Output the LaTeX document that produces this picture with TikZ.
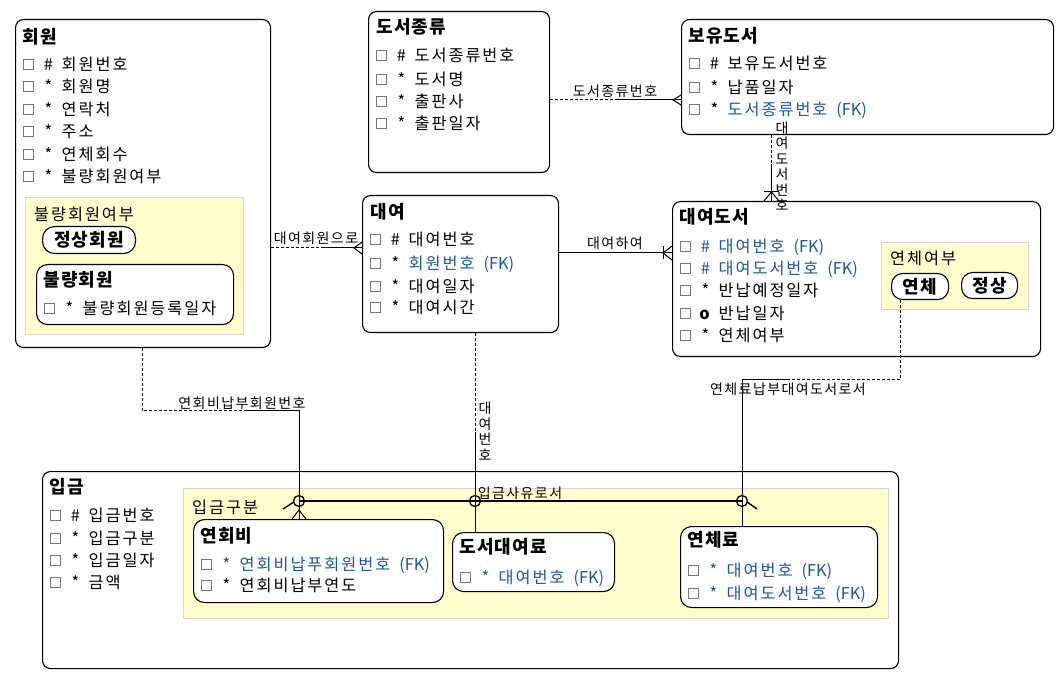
\documentclass[tikz,border=0pt]{standalone}
\usepackage{fontspec}
\setmainfont{Noto Sans CJK KR}
\usetikzlibrary{calc}
\definecolor{fkblue}{RGB}{30,85,160}
\definecolor{subyellow}{RGB}{255,255,206}
\definecolor{subborder}{RGB}{214,214,214}
\definecolor{cbgray}{RGB}{120,120,120}
\newcommand\attrfont{\fontsize{16.3}{18}\selectfont\addfontfeature{LetterSpace=12}}
\newcommand\titlefont{\fontsize{18}{20}\selectfont\bfseries\addfontfeature{LetterSpace=7}}
\newcommand\lblfont{\fontsize{14}{15.5}\selectfont\addfontfeature{LetterSpace=10}}
\newcommand\vlblfont{\fontsize{14}{15.5}\selectfont}
\tikzset{
  entity/.style={draw=black, line width=1.1pt, rounded corners=8pt, fill=white, inner sep=0, anchor=north west},
  subbox/.style={draw=black, line width=1.1pt, rounded corners=11pt, fill=white, inner sep=0, anchor=north west},
  subarea/.style={draw=subborder, line width=1pt, fill=subyellow, inner sep=0, anchor=north west},
  etitle/.style={font=\titlefont, anchor=west, inner sep=0, text height=15.5pt, text depth=3pt},
  pilltext/.style={font=\titlefont, inner sep=0},
  areatext/.style={font=\attrfont, anchor=west, inner sep=0, text height=14.3pt, text depth=2pt},
  cbox/.style={draw=cbgray, line width=0.8pt, minimum size=10pt, inner sep=0, fill=white},
  amark/.style={font=\attrfont, inner sep=0, text height=14.3pt, text depth=2pt},
  atext/.style={font=\attrfont, anchor=west, inner sep=0, text height=14.3pt, text depth=2pt},
  conn/.style={draw=black, line width=1pt},
  opt/.style={conn, dash pattern=on 3pt off 2pt},
  clabel/.style={font=\lblfont, inner sep=0},
  vlabel/.style={font=\vlblfont, inner sep=0, align=center},
  arccirc/.style={circle, draw=black, line width=1.3pt, minimum size=11pt, inner sep=0},
}
% #1 name, #2 box left, #3 y, #4 marker, #5 text, #6 text colour
\newcommand\attr[6]{%
  \node[cbox] (#1c) at ({#2+13.5},#3) {};
  \node[amark] (#1m) at ({#2+33.5},#3) {#4};
  \node[atext, text=#6] (#1t) at ({#2+46.5},#3) {#5};}
\newcommand\fk{\hspace{9pt}{\addfontfeature{LetterSpace=0}(FK)}}
\begin{document}
\begin{tikzpicture}[x=1pt,y=-1pt]
\useasboundingbox (0,0) rectangle (1063,684);
\fill[white] (0,0) rectangle (1063,684);

% ---------- 회원 ----------
\node[entity, minimum width=255, minimum height=328] (hoewon) at (15,19) {};
\node[etitle] (hoewonT) at (22,37) {회원};
\attr{hw1}{15}{64}{\#}{회원번호}{black}
\attr{hw2}{15}{86}{*}{회원명}{black}
\attr{hw3}{15}{109}{*}{연락처}{black}
\attr{hw4}{15}{131}{*}{주소}{black}
\attr{hw5}{15}{154}{*}{연체회수}{black}
\attr{hw6}{15}{176}{*}{불량회원여부}{black}
\node[subarea, minimum width=218, minimum height=137] (hwarea) at (25,197) {};
\node[areatext] (hwareaT) at (34,214) {불량회원여부};
\node[subbox, rounded corners=12pt, minimum width=93, minimum height=27] (jsh) at (42,226) {};
\node[pilltext] (jshT) at (jsh.center) {정상회원};
\node[subbox, minimum width=197, minimum height=60] (bry) at (36,264) {};
\node[etitle] (bryT) at (43,280) {불량회원};
\attr{br1}{36}{308}{*}{불량회원등록일자}{black}

% ---------- 도서종류 ----------
\node[entity, minimum width=181, minimum height=161] (dojong) at (368,11) {};
\node[etitle] (dojongT) at (376,27) {도서종류};
\attr{dj1}{368}{55}{\#}{도서종류번호}{black}
\attr{dj2}{368}{79}{*}{도서명}{black}
\attr{dj3}{368}{101}{*}{출판사}{black}
\attr{dj4}{368}{123}{*}{출판일자}{black}

% ---------- 보유도서 ----------
\node[entity, minimum width=372, minimum height=115] (boyu) at (681,19) {};
\node[etitle] (boyuT) at (688,36) {보유도서};
\attr{by1}{681}{63}{\#}{보유도서번호}{black}
\attr{by2}{681}{87}{*}{납품일자}{black}
\attr{by3}{681}{109}{*}{도서종류번호\fk}{fkblue}

% ---------- 대여 ----------
\node[entity, minimum width=196, minimum height=137] (daeyeo) at (362,195) {};
\node[etitle] (daeyeoT) at (370,212) {대여};
\attr{dy1}{362}{239}{\#}{대여번호}{black}
\attr{dy2}{362}{263}{*}{회원번호\fk}{fkblue}
\attr{dy3}{362}{286}{*}{대여일자}{black}
\attr{dy4}{362}{307}{*}{대여시간}{black}

% ---------- 대여도서 ----------
\node[entity, minimum width=368, minimum height=155] (daedo) at (672,201) {};
\node[etitle] (daedoT) at (679,217) {대여도서};
\attr{dd1}{672}{246}{\textcolor{fkblue}{\#}}{대여번호\fk}{fkblue}
\attr{dd2}{672}{268}{\textcolor{fkblue}{\#}}{대여도서번호\fk}{fkblue}
\attr{dd3}{672}{290}{*}{반납예정일자}{black}
\attr{dd4}{672}{313}{\textbf{o}}{반납일자}{black}
\attr{dd5}{672}{335}{*}{연체여부}{black}
\node[subarea, minimum width=147, minimum height=67] (ddarea) at (881,242) {};
\node[areatext] (ddareaT) at (890,258) {연체여부};
\node[subbox, rounded corners=11pt, minimum width=57, minimum height=26] (yeonche) at (891,273) {};
\node[pilltext] (yeoncheT) at (yeonche.center) {연체};
\node[subbox, rounded corners=11pt, minimum width=56, minimum height=26] (jsang) at (961,272) {};
\node[pilltext] (jsangT) at (jsang.center) {정상};

% ---------- 입금 ----------
\node[entity, minimum width=856, minimum height=197] (ipgeum) at (42,471) {};
\node[etitle] (ipgeumT) at (49,487) {입금};
\attr{ig1}{42}{515}{\#}{입금번호}{black}
\attr{ig2}{42}{538}{*}{입금구분}{black}
\attr{ig3}{42}{560}{*}{입금일자}{black}
\attr{ig4}{42}{582}{*}{금액}{black}
\node[subarea, minimum width=705, minimum height=130] (igarea) at (183,488) {};
\node[areatext] (igareaT) at (192,507) {입금구분};

\node[subbox, minimum width=250, minimum height=83] (yeonhoe) at (193,519) {};
\node[etitle] (yeonhoeT) at (200,536) {연회비};
\attr{yh1}{193}{564}{\textcolor{fkblue}{*}}{연회비납푸회원번호\fk}{fkblue}
\attr{yh2}{193}{585}{*}{연회비납부연도}{black}

\node[subbox, minimum width=162, minimum height=59] (doseo) at (452,532) {};
\node[etitle] (doseoT) at (459,547) {도서대여료};
\attr{ds1}{452}{577}{\textcolor{fkblue}{*}}{대여번호\fk}{fkblue}

\node[subbox, minimum width=197, minimum height=81] (yeonchelyo) at (680,526) {};
\node[etitle] (yeonchelyoT) at (687,540) {연체료};
\attr{yl1}{680}{570}{\textcolor{fkblue}{*}}{대여번호\fk}{fkblue}
\attr{yl2}{680}{593}{\textcolor{fkblue}{*}}{대여도서번호\fk}{fkblue}

% ---------- connectors ----------
% 도서종류 -> 보유도서
\draw[opt] (dojong.east |- 0,100) -- (616,100) coordinate (l1m);
\draw[conn] (l1m) -- (boyu.west |- 0,100);
\draw[conn] (boyu.west |- 0,95) -- (673,100) -- (boyu.west |- 0,105);
\node[clabel] (l1lab) at (615,91) {도서종류번호};

% 보유도서 -> 대여도서
\draw[opt] (boyu.south -| 771.5,0) -- (771.5,164) coordinate (l2m);
\draw[conn] (l2m) -- (daedo.north -| 771.5,0);
\draw[conn] (764,192) -- (779,192);
\draw[conn] (daedo.north -| 764,0) -- (771.5,192) -- (daedo.north -| 779,0);
\node[vlabel] (l2lab) at (782,166) {대\\여\\도\\서\\번\\호};

% 회원 -> 대여
\draw[opt] (hoewon.east |- 0,248) -- (323,248) coordinate (l3m);
\draw[conn] (l3m) -- (daeyeo.west |- 0,248);
\draw[conn] (daeyeo.west |- 0,242) -- (354,248) -- (daeyeo.west |- 0,254);
\node[clabel] (l3lab) at (316,238) {대여회원으로};

% 대여 -> 대여도서
\draw[conn] (daeyeo.east |- 0,253) -- (daedo.west |- 0,253);
\draw[conn] (663,246.5) -- (663,259.5);
\draw[conn] (daedo.west |- 0,246) -- (663,253) -- (daedo.west |- 0,260);
\node[clabel] (l4lab) at (615,243) {대여하여};

% 회원 -> 연회비
\draw[opt] (hoewon.south -| 142,0) |- (244,411) coordinate (l5m);
\draw[conn] (l5m) -| (yeonhoe.north -| 299,0);
\draw[conn] (yeonhoe.north -| 292,0) -- (299,510) -- (yeonhoe.north -| 306,0);
\node[clabel] (l5lab) at (242,403) {연회비납부회원번호};

% 대여 -> 도서대여료
\draw[opt] (daeyeo.south -| 475,0) -- (475,432) coordinate (l6m);
\draw[conn] (l6m) -- (doseo.north -| 475,0);
\node[vlabel] (l6lab) at (485,431) {대\\여\\번\\호};

% 대여도서(연체) -> 연체료
\draw[opt] (yeonche.south -| 900,0) |- (789,380) coordinate (l7m);
\draw[conn] (l7m) -| (yeonchelyo.north -| 742,0);
\node[clabel] (l7lab) at (788,389) {연체료납부대여도서로서};

% arc 입금사유로서
\node[arccirc] (arc1) at (299,501) {};
\node[arccirc] (arc2) at (475,501) {};
\node[arccirc] (arc3) at (742,501) {};
\draw[line width=2.3pt] (arc1.center) -- (arc3.center);
\draw[line width=1.4pt] (arc1.west) ++(1,1) -- (283,509);
\draw[line width=1.4pt] (arc3.east) ++(-1,1) -- (757,509);
\node[clabel] (arclab) at (520,493) {입금사유로서};
\end{tikzpicture}
\end{document}
